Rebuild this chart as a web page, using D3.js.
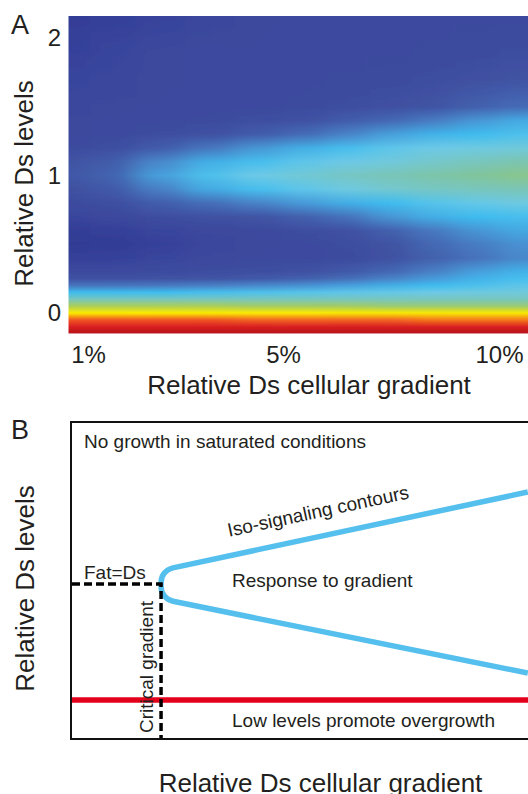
<!DOCTYPE html>
<html>
<head>
<meta charset="utf-8">
<script src="https://cdn.jsdelivr.net/npm/d3@7"></script>
<style>
  body { margin: 0; background: #fff; overflow: hidden; }
  svg { display: block; }
</style>
</head>
<body>
<script>
// panel A: signaling level (0 = dark blue ... 1 = dark red)
var gradients = [0.6, 1.5, 2.5, 3.5, 4.5, 5.5, 6.5, 7.5, 8.5, 9.5, 10.5];
var gradientExtent = [0.6, 10.7];
var levels = [-0.15, -0.1, -0.05, 0, 0.05, 0.1, 0.15, 0.2, 0.25, 0.3, 0.4, 0.5, 0.6,
              0.7, 0.8, 0.9, 1.0, 1.1, 1.2, 1.3, 1.4, 1.5, 1.7, 1.9, 2.16];
var signal = [
  [1.00, 1.00, 1.00, 1.00, 1.00, 1.00, 1.00, 1.00, 1.00, 1.00, 1.00],
  [0.97, 0.97, 0.97, 0.97, 0.97, 0.97, 0.97, 0.97, 0.97, 0.97, 0.97],
  [0.93, 0.93, 0.93, 0.93, 0.92, 0.92, 0.92, 0.92, 0.91, 0.91, 0.91],
  [0.84, 0.84, 0.84, 0.83, 0.83, 0.83, 0.82, 0.82, 0.82, 0.82, 0.82],
  [0.73, 0.73, 0.73, 0.73, 0.72, 0.72, 0.72, 0.71, 0.71, 0.71, 0.71],
  [0.63, 0.63, 0.63, 0.63, 0.63, 0.63, 0.63, 0.63, 0.63, 0.63, 0.63],
  [0.50, 0.50, 0.50, 0.51, 0.52, 0.53, 0.54, 0.55, 0.56, 0.57, 0.58],
  [0.34, 0.34, 0.35, 0.37, 0.39, 0.41, 0.44, 0.47, 0.50, 0.52, 0.54],
  [0.20, 0.20, 0.21, 0.22, 0.24, 0.27, 0.32, 0.38, 0.43, 0.48, 0.51],
  [0.15, 0.15, 0.16, 0.17, 0.18, 0.20, 0.24, 0.30, 0.37, 0.44, 0.48],
  [0.09, 0.10, 0.12, 0.14, 0.15, 0.15, 0.16, 0.20, 0.27, 0.33, 0.39],
  [0.05, 0.06, 0.10, 0.13, 0.14, 0.15, 0.17, 0.21, 0.30, 0.36, 0.41],
  [0.07, 0.09, 0.12, 0.14, 0.15, 0.17, 0.20, 0.27, 0.35, 0.42, 0.46],
  [0.12, 0.14, 0.17, 0.20, 0.22, 0.27, 0.33, 0.42, 0.47, 0.50, 0.51],
  [0.16, 0.18, 0.26, 0.32, 0.38, 0.43, 0.47, 0.50, 0.53, 0.55, 0.57],
  [0.19, 0.24, 0.37, 0.46, 0.51, 0.54, 0.57, 0.60, 0.62, 0.63, 0.64],
  [0.23, 0.28, 0.44, 0.52, 0.56, 0.59, 0.62, 0.64, 0.66, 0.68, 0.69],
  [0.21, 0.25, 0.39, 0.47, 0.51, 0.54, 0.56, 0.58, 0.61, 0.63, 0.65],
  [0.16, 0.18, 0.25, 0.34, 0.42, 0.47, 0.51, 0.54, 0.56, 0.57, 0.58],
  [0.14, 0.15, 0.17, 0.20, 0.25, 0.31, 0.38, 0.44, 0.48, 0.50, 0.52],
  [0.14, 0.15, 0.15, 0.16, 0.18, 0.20, 0.25, 0.30, 0.36, 0.42, 0.46],
  [0.13, 0.14, 0.15, 0.15, 0.15, 0.16, 0.17, 0.19, 0.22, 0.27, 0.31],
  [0.12, 0.13, 0.14, 0.15, 0.15, 0.15, 0.16, 0.16, 0.17, 0.19, 0.21],
  [0.10, 0.12, 0.14, 0.15, 0.15, 0.15, 0.15, 0.15, 0.16, 0.16, 0.17],
  [0.07, 0.09, 0.11, 0.13, 0.14, 0.15, 0.15, 0.15, 0.15, 0.15, 0.15]
];
var xTicks = [1, 5, 10];
var yTicks = [0, 1, 2];

// panel B: schematic, both axes in relative units 0..1
var criticalGradient = 0.192;
var fatDsLevel = 0.489;
var lowLevel = 0.123;
var upperContour = [[0.192, 0.532], [0.974, 0.779]];
var lowerContour = [[0.192, 0.442], [0.974, 0.208]];

var width = 528, height = 794;
var font = "'Liberation Sans', Arial, Helvetica, sans-serif";
var ink = "#231f20";

var svg = d3.select("body")
    .append("svg")
    .attr("width", width)
    .attr("height", height);

var defs = svg.append("defs");

// scales
var xA = d3.scaleLinear().domain([1, 5, 10]).range([88, 283, 499]);
var yA = d3.scaleLinear().domain([0, 2]).range([313, 38]);
var xB = d3.scaleLinear().domain([0, 1]).range([71, 540]);
var yB = d3.scaleLinear().domain([0, 1]).range([739, 422]);

var color = d3.scaleLinear()
    .domain([0, 0.1, 0.15, 0.22, 0.3, 0.38, 0.44, 0.5, 0.56, 0.62, 0.68, 0.74, 0.8, 0.84, 0.88, 0.92, 0.96, 1])
    .range(["#2c358c", "#36419a", "#3d4a9e", "#4054a4", "#4468b3", "#4883c8", "#479fdc", "#3fbcee",
            "#6dc9e6", "#76c6c4", "#80c49c", "#b4d04a", "#f3e500", "#fdeb00", "#fbb413", "#f26522",
            "#e52421", "#b5121b"]);

// ---------- panel A ----------
var lmin = levels[0], lmax = levels[levels.length - 1];

defs.append("clipPath")
    .attr("id", "clipA")
    .append("rect")
    .attr("x", xA(gradientExtent[0]))
    .attr("y", yA(lmax))
    .attr("width", xA(gradientExtent[1]) - xA(gradientExtent[0]))
    .attr("height", yA(lmin) - yA(lmax));

defs.append("filter")
    .attr("id", "blurX")
    .attr("filterUnits", "userSpaceOnUse")
    .attr("x", -100).attr("y", 0).attr("width", 800).attr("height", 400)
    .append("feGaussianBlur")
    .attr("stdDeviation", "14 0");

gradients.forEach(function (g, i) {
    var lg = defs.append("linearGradient")
        .attr("id", "col" + i)
        .attr("gradientUnits", "userSpaceOnUse")
        .attr("x1", 0).attr("x2", 0)
        .attr("y1", yA(lmin)).attr("y2", yA(lmax));
    levels.forEach(function (l, j) {
        lg.append("stop")
            .attr("offset", (l - lmin) / (lmax - lmin))
            .attr("stop-color", color(signal[j][i]));
    });
});

var heat = svg.append("g")
    .attr("clip-path", "url(#clipA)")
    .append("g")
    .attr("filter", "url(#blurX)");

heat.selectAll("rect")
    .data(gradients)
    .enter().append("rect")
    .attr("x", function (d, i) {
        return i === 0 ? xA(d) - 80 : (xA(gradients[i - 1]) + xA(d)) / 2;
    })
    .attr("width", function (d, i) {
        var x0 = i === 0 ? xA(d) - 80 : (xA(gradients[i - 1]) + xA(d)) / 2;
        var x1 = i === gradients.length - 1 ? xA(d) + 80 : (xA(d) + xA(gradients[i + 1])) / 2;
        return x1 - x0 + 0.5;
    })
    .attr("y", yA(lmax))
    .attr("height", yA(lmin) - yA(lmax))
    .attr("fill", function (d, i) { return "url(#col" + i + ")"; });

var yAxisA = svg.append("g")
    .attr("transform", "translate(61,0)")
    .call(d3.axisLeft(yA).tickValues(yTicks).tickSize(0).tickPadding(0)
        .tickFormat(d3.format("d")));
yAxisA.select(".domain").remove();

var xAxisA = svg.append("g")
    .attr("transform", "translate(0,346)")
    .call(d3.axisBottom(xA).tickValues(xTicks).tickSize(0).tickPadding(0)
        .tickFormat(function (d) { return d + "%"; }));
xAxisA.select(".domain").remove();

svg.selectAll(".tick text")
    .attr("font-size", 24)
    .attr("font-family", font)
    .attr("fill", ink);

svg.append("text")
    .attr("x", 309).attr("y", 394)
    .attr("text-anchor", "middle")
    .text("Relative Ds cellular gradient");

svg.append("text")
    .attr("transform", "translate(32.5,183.5) rotate(-90)")
    .attr("text-anchor", "middle")
    .text("Relative Ds levels");

svg.append("text")
    .attr("x", 11).attr("y", 34)
    .attr("font-size", 27)
    .text("A");

// ---------- panel B ----------
svg.append("text")
    .attr("x", 11).attr("y", 439)
    .attr("font-size", 27)
    .text("B");

svg.append("rect")
    .attr("x", xB(0))
    .attr("y", yB(1))
    .attr("width", xB(1) - xB(0))
    .attr("height", yB(0) - yB(1))
    .attr("fill", "none")
    .attr("stroke", "#111")
    .attr("stroke-width", 2);

svg.append("line")
    .attr("x1", xB(0) + 1).attr("x2", xB(1))
    .attr("y1", yB(lowLevel)).attr("y2", yB(lowLevel))
    .attr("stroke", "#e2001a")
    .attr("stroke-width", 5.5);

var contour = d3.path();
contour.moveTo(xB(upperContour[1][0]), yB(upperContour[1][1]));
contour.arcTo(xB(upperContour[0][0]), yB(upperContour[0][1]),
              xB(lowerContour[0][0]), yB(lowerContour[0][1]), 15);
contour.arcTo(xB(lowerContour[0][0]), yB(lowerContour[0][1]),
              xB(lowerContour[1][0]), yB(lowerContour[1][1]), 15);
contour.lineTo(xB(lowerContour[1][0]), yB(lowerContour[1][1]));

svg.append("path")
    .attr("d", contour.toString())
    .attr("fill", "none")
    .attr("stroke", "#55bfed")
    .attr("stroke-width", 5.5);

svg.append("path")
    .attr("d", "M" + (xB(0) + 1) + "," + yB(fatDsLevel) +
               "H" + xB(criticalGradient) + "V" + (yB(0) - 1))
    .attr("fill", "none")
    .attr("stroke", "#000")
    .attr("stroke-width", 3.5)
    .attr("stroke-dasharray", "8,4");

var notes = svg.append("g")
    .attr("font-size", 19)
    .attr("fill", ink);

notes.append("text").attr("x", 84).attr("y", 448).text("No growth in saturated conditions");
notes.append("text").attr("x", 84).attr("y", 579).text("Fat=Ds");
notes.append("text").attr("x", 232).attr("y", 586.5).text("Response to gradient");
notes.append("text").attr("x", 232).attr("y", 727).text("Low levels promote overgrowth");
notes.append("text")
    .attr("transform", "translate(153,667) rotate(-90)")
    .attr("text-anchor", "middle")
    .text("Critical gradient");

// label along the upper contour
var ux0 = xB(upperContour[0][0]), uy0 = yB(upperContour[0][1]);
var ux1 = xB(upperContour[1][0]), uy1 = yB(upperContour[1][1]);
var angle = Math.atan2(uy1 - uy0, ux1 - ux0) * 180 / Math.PI;
var lx = 229;
var ly = uy0 + (lx - ux0) / (ux1 - ux0) * (uy1 - uy0) - 19;
notes.append("text")
    .attr("transform", "translate(" + lx + "," + ly + ") rotate(" + angle + ")")
    .text("Iso-signaling contours");

svg.append("text")
    .attr("x", 320.5).attr("y", 791.5)
    .attr("text-anchor", "middle")
    .text("Relative Ds cellular gradient");

svg.append("text")
    .attr("transform", "translate(34,588.5) rotate(-90)")
    .attr("text-anchor", "middle")
    .text("Relative Ds levels");

svg.selectAll("text")
    .attr("font-family", font)
    .each(function () {
        var t = d3.select(this);
        if (!t.attr("font-size") && !this.closest("g")) t.attr("font-size", 26);
        if (!t.attr("fill")) t.attr("fill", ink);
    });
</script>
</body>
</html>
